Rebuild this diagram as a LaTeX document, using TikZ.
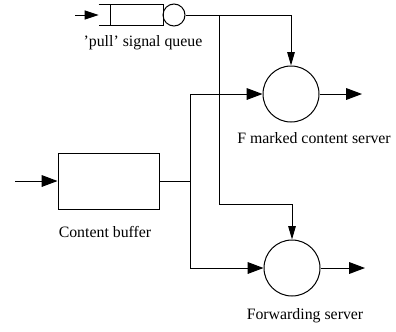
\documentclass[tikz,border=0pt]{standalone}
\usepackage{fontspec}
\setmainfont{Liberation Serif}
\usetikzlibrary{arrows.meta,positioning}
\tikzset{
  serverbox/.style={draw,circle,line width=0.6pt,minimum size=33.6pt,inner sep=0pt},
  bufferbox/.style={draw,rectangle,line width=0.6pt,minimum width=60.6pt,minimum height=33.6pt,inner sep=0pt},
  queuebox/.style={rectangle,minimum width=38.4pt,minimum height=12pt,inner sep=0pt},
  queueserver/.style={draw,circle,line width=0.6pt,minimum size=13.2pt,inner sep=0pt},
  flowarrow/.style={-{Triangle[length=9.5pt,width=7pt]},line width=0.6pt},
  signalarrow/.style={-{Triangle[length=8pt,width=4.5pt]},line width=0.6pt},
  flowline/.style={line width=0.6pt},
  figurelabel/.style={font=\fontsize{9.5}{11}\selectfont,inner sep=0pt,align=center}
}
\begin{document}
\begin{tikzpicture}[x=0.6pt,y=-0.6pt]
  \useasboundingbox (0,0) rectangle (396,331);
  % pull signal queue
  \node[queuebox] (queue) at (131,15) {};
  \node[queueserver] (qsrv) at (174,15) {};
  \draw[flowline] (queue.north west)--(queue.north east)--(queue.south east)--(queue.south west);
  \draw[flowline] ([xshift=7.2pt]queue.north west)--([xshift=7.2pt]queue.south west);
  \node[figurelabel] (qlabel) at (143,43) {'pull' signal queue};
  \coordinate (qin) at (75,15);
  \draw[flowarrow,-{Triangle[length=8.5pt,width=5.5pt]}] (qin)--(queue.west);
  % servers
  \node[serverbox] (fsrv) at (291,94) {};
  \node[figurelabel] (flabel) at (314,138) {F marked content server};
  \node[serverbox] (fwd) at (292,268) {};
  \node[figurelabel] (fwdlabel) at (305,316) {Forwarding server};
  % content buffer
  \node[bufferbox] (buffer) at (108.5,181) {};
  \node[figurelabel] (blabel) at (105,232) {Content buffer};
  \coordinate (bin) at (15,181);
  \draw[flowarrow] (bin)--(buffer.west);
  % signal lines
  \coordinate (split) at (219,15);
  \coordinate (turn) at (219,204);
  \draw[signalarrow] (qsrv.east)-|(fsrv.north);
  \draw[signalarrow] (split)--(turn)-|(fwd.north);
  % content lines
  \coordinate (fork) at (190,181);
  \draw[flowline] (buffer.east)--(fork);
  \draw[flowarrow] (fork)|-(fsrv.west);
  \draw[flowarrow] (fork)|-(fwd.west);
  % outputs
  \coordinate (fout) at (362,94);
  \coordinate (fwdout) at (365,268);
  \draw[flowarrow] (fsrv.east)--(fout);
  \draw[flowarrow] (fwd.east)--(fwdout);
\end{tikzpicture}
\end{document}
